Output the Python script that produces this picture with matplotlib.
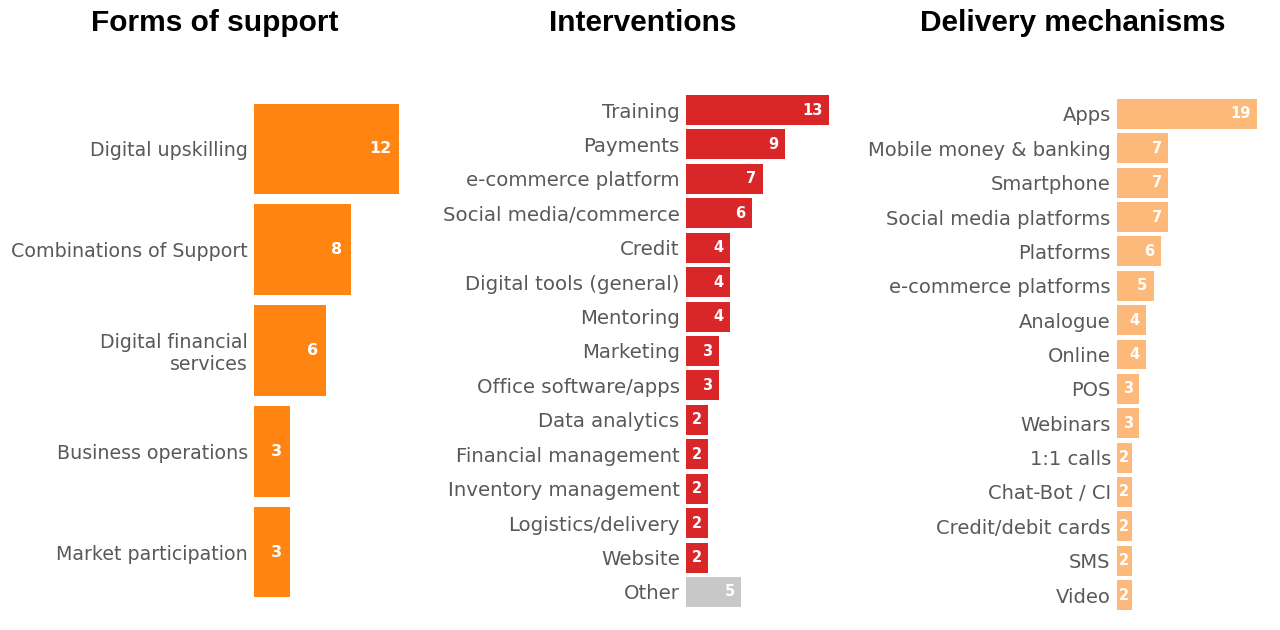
import matplotlib
matplotlib.use("Agg")
import matplotlib.pyplot as plt

# --- data ---
support_labels = ["Digital upskilling", "Combinations of Support",
                  "Digital financial\nservices", "Business operations",
                  "Market participation"]
support_values = [12, 8, 6, 3, 3]

intervention_labels = ["Training", "Payments", "e-commerce platform",
                       "Social media/commerce", "Credit", "Digital tools (general)",
                       "Mentoring", "Marketing", "Office software/apps",
                       "Data analytics", "Financial management",
                       "Inventory management", "Logistics/delivery", "Website", "Other"]
intervention_values = [13, 9, 7, 6, 4, 4, 4, 3, 3, 2, 2, 2, 2, 2, 5]

delivery_labels = ["Apps", "Mobile money & banking", "Smartphone",
                   "Social media platforms", "Platforms", "e-commerce platforms",
                   "Analogue", "Online", "POS", "Webinars", "1:1 calls",
                   "Chat-Bot / CI", "Credit/debit cards", "SMS", "Video"]
delivery_values = [19, 7, 7, 7, 6, 5, 4, 4, 3, 3, 2, 2, 2, 2, 2]

W, H = 1280, 630
LABEL_FONT = "DejaVu Sans"
TEXT_GREY = "#595959"

fig = plt.figure(figsize=(W / 100, H / 100), dpi=100)
fig.patch.set_facecolor("white")


def panel(left_px, top_px, bottom_px, right_px, px_per_unit, labels, values,
          colors, bar_h, fontsize, val_size, inset=7):
    ax = fig.add_axes([left_px / W, 1 - bottom_px / H,
                       (right_px - left_px) / W, (bottom_px - top_px) / H])
    n = len(labels)
    y = list(range(n))
    ax.barh(y, values, height=bar_h, color=colors, left=0)
    ax.set_xlim(0, (right_px - left_px) / px_per_unit)
    ax.set_ylim(n - 0.5, -0.5)
    ax.set_yticks(y)
    ax.set_yticklabels(labels, fontsize=fontsize, color=TEXT_GREY,
                       family=LABEL_FONT)
    ax.tick_params(axis="y", length=0, pad=4.5)
    ax.set_xticks([])
    for s in ax.spines.values():
        s.set_visible(False)
    for yi, v in zip(y, values):
        # label sits near the bar end, centred when the bar is narrow
        bar_px = v * px_per_unit
        text_w = len(str(v)) * val_size * 0.62 * 100 / 72
        off_px = max(-bar_px / 2, -(inset + text_w / 2))
        ax.annotate(str(v), (v, yi), xytext=(off_px * 0.72, 0),
                    textcoords="offset points",
                    ha="center", va="center", color="white",
                    fontsize=val_size, fontweight="bold", family=LABEL_FONT)
    return ax


panel(254, 98.6, 602.4, 420, 12.08, support_labels, support_values,
      ["#FF8412"] * 5, 0.9, 13.7, 11.5, inset=9)

red_colors = ["#D92629"] * 14 + ["#C8C8C8"]
panel(686, 92.8, 609.2, 850, 11.0, intervention_labels, intervention_values,
      red_colors, 0.87, 14.2, 10.5)

panel(1117, 96.8, 612.2, 1275, 7.35, delivery_labels, delivery_values,
      ["#FDB97A"] * 15, 0.87, 14, 10.5)

for x, t in [(215, "Forms of support"), (643, "Interventions"),
             (1073, "Delivery mechanisms")]:
    fig.text(x / W, 1 - 23 / H, t, ha="center", va="center",
             fontsize=21.5, fontweight="bold", family="Liberation Sans",
             color="black")

fig.savefig("out.png", dpi=100)
